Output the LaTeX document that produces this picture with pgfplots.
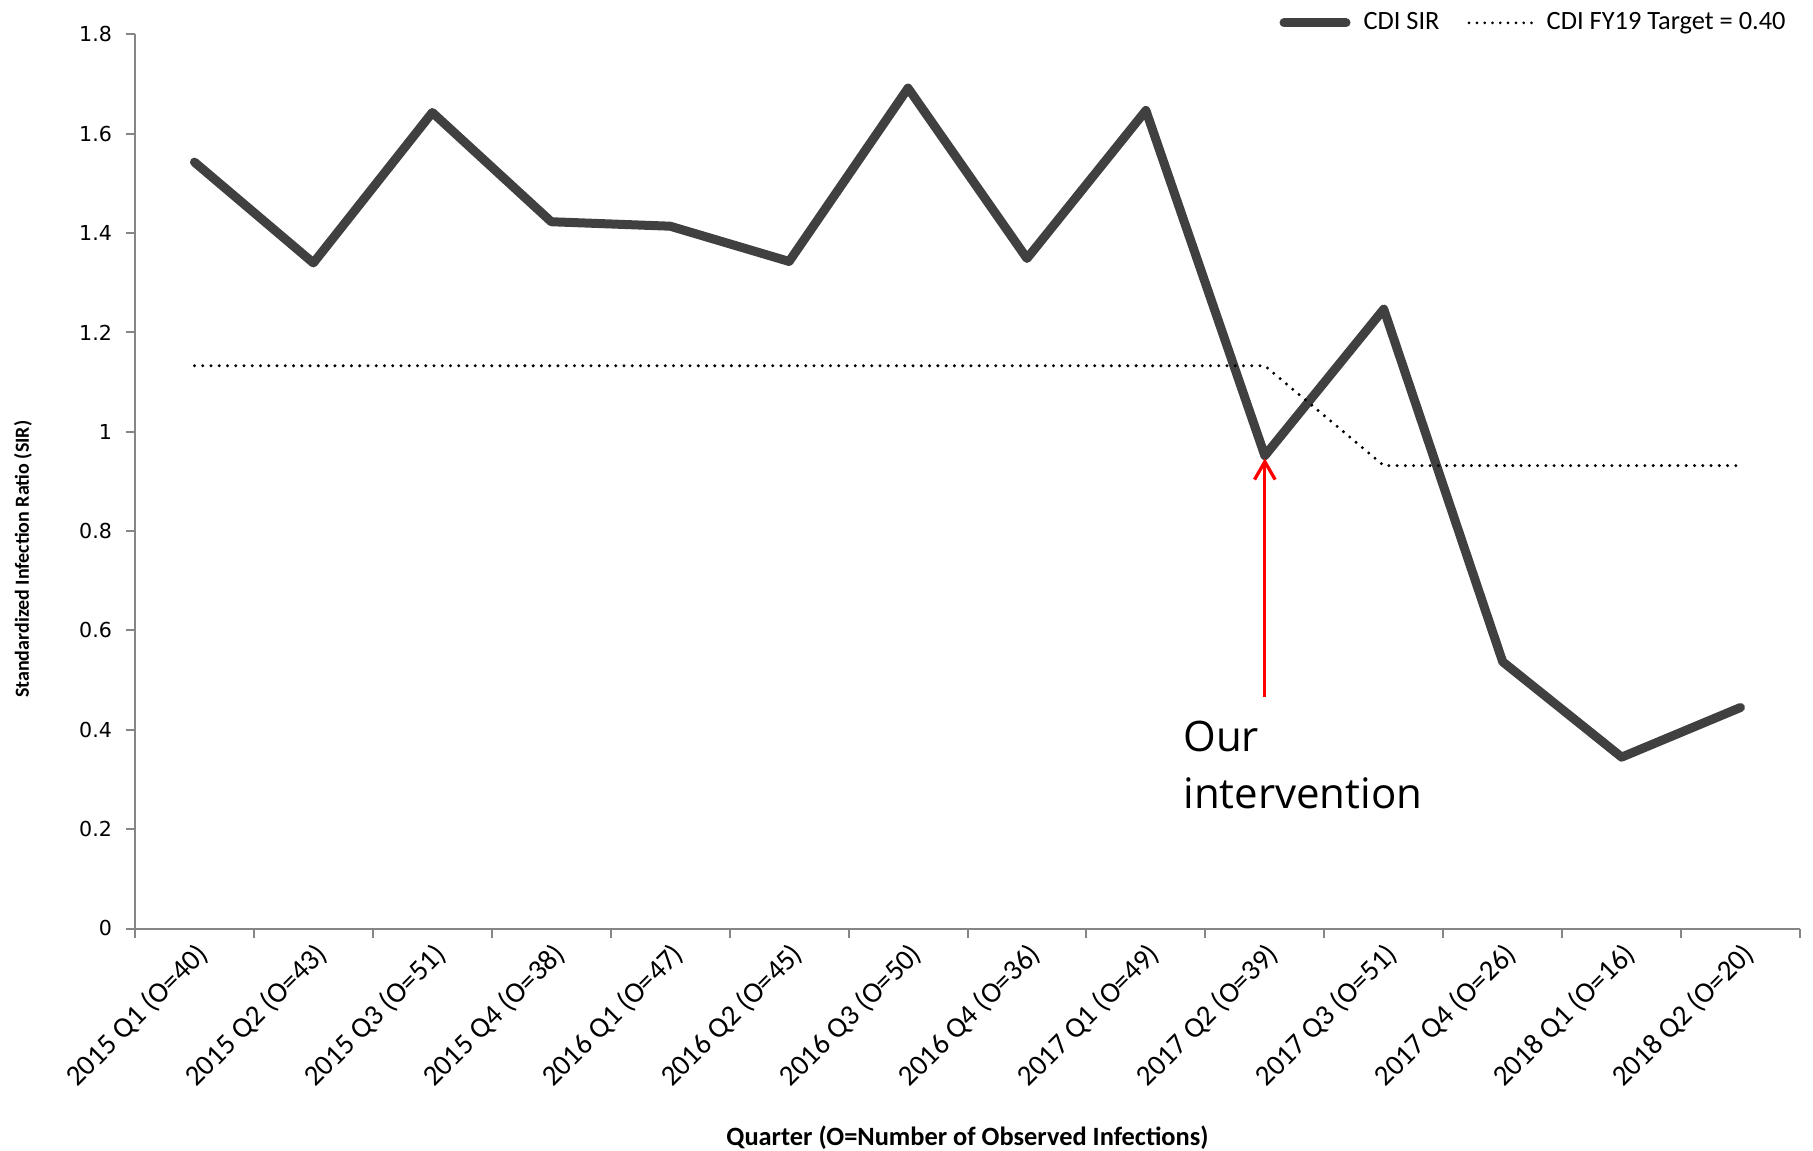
\documentclass[border=0pt]{standalone}
\usepackage{fontspec}
\setmainfont{Carlito}
\newfontfamily\dejavu{DejaVu Sans}
\newfontfamily\osans{Open Sans}
\usepackage{pgfplots}
\pgfplotsset{compat=1.18}
\usetikzlibrary{arrows.meta}
\definecolor{sirline}{HTML}{404040}
\definecolor{axgray}{HTML}{868686}
\pgfplotstableread{
x y
0 1.543
1 1.340
2 1.643
3 1.423
4 1.414
5 1.343
6 1.692
7 1.349
8 1.647
9 0.952
10 1.247
11 0.537
12 0.345
13 0.445
}\sirdata
\pgfplotstableread{
x y
0 1.133
1 1.133
2 1.133
3 1.133
4 1.133
5 1.133
6 1.133
7 1.133
8 1.133
9 1.133
10 0.932
11 0.932
12 0.932
13 0.932
}\targetdata
\begin{document}
\begin{tikzpicture}
\useasboundingbox (0,0) rectangle (906.5pt,575pt);
\begin{axis}[
  at={(67.5pt,110.75pt)}, anchor=south west,
  scale only axis, width=832.5pt, height=447pt,
  xmin=-0.5, xmax=13.5, ymin=0, ymax=1.8,
  clip=false,
  axis x line*=bottom, axis y line*=left,
  axis line style={axgray, line width=1pt},
  tick align=outside,
  xtick={0,...,13},
  xticklabels={2015 Q1 (O=40),2015 Q2 (O=43),2015 Q3 (O=51),2015 Q4 (O=38),2016 Q1 (O=47),2016 Q2 (O=45),2016 Q3 (O=50),2016 Q4 (O=36),2017 Q1 (O=49),2017 Q2 (O=39),2017 Q3 (O=51),2017 Q4 (O=26),2018 Q1 (O=16),2018 Q2 (O=20)},
  major x tick style={draw=none},
  minor xtick={-0.5,0.5,...,13.5},
  minor x tick style={axgray, line width=1pt},
  minor tick length=4.5pt,
  ytick={0,0.2,0.4,0.6,0.8,1,1.2,1.4,1.6,1.8},
  y tick style={axgray, line width=1pt},
  major tick length=4.5pt,
  /pgf/number format/assume math mode=true,
  yticklabel style={font=\dejavu\fontsize{10.3}{12}\selectfont, xshift=-3.5pt},
  xticklabel style={rotate=45, anchor=north east, font=\fontsize{14.5}{16}\selectfont, inner sep=1pt},
  ylabel={Standardized Infection Ratio (SIR)},
  ylabel style={at={(axis description cs:-0.0673,0.413)}, anchor=center, font=\bfseries\fontsize{10}{12}\selectfont},
  xlabel={Quarter (O=Number of Observed Infections)},
  xlabel style={at={(axis description cs:0.5,-0.234)}, anchor=center, font=\bfseries\fontsize{13.2}{15}\selectfont},
  legend columns=2,
  legend style={at={(axis description cs:0.994,1.013)}, anchor=east, draw=none, fill=none,
    font=\fontsize{13.2}{15}\selectfont, inner sep=0pt,
    /tikz/every even column/.append style={column sep=12pt}},
]
\addplot[sirline, line width=4.5pt, line join=round, line cap=round,
  legend image code/.code={\draw[sirline, line width=4.5pt, line cap=round] (0pt,0pt) -- (31pt,0pt); \path (35.5pt,0pt);}]
  table[x=x, y=y] {\sirdata};
\addlegendentry{CDI SIR}
\addplot[black, line width=1.65pt, dash pattern=on 0pt off 4.13pt, line cap=round,
  legend image code/.code={\draw[black, line width=1.5pt, dash pattern=on 0pt off 3.9pt, line cap=round] (0pt,0pt) -- (32pt,0pt); \path (36pt,0pt);}]
  table[x=x, y=y] {\targetdata};
\addlegendentry{CDI FY19 Target = 0.40}
\draw[red, line width=1.65pt, -{Straight Barb[length=9pt, width=10.3pt]}] (axis cs:9,0.4667) -- (axis cs:9,0.9467);
\node[anchor=base west, font=\osans\fontsize{21}{28}\selectfont, inner sep=0pt] at (axis cs:8.312,0.356) {Our};
\node[anchor=base west, font=\osans\fontsize{21}{28}\selectfont, inner sep=0pt] at (axis cs:8.312,0.2426) {intervention};
\end{axis}
\end{tikzpicture}
\end{document}
